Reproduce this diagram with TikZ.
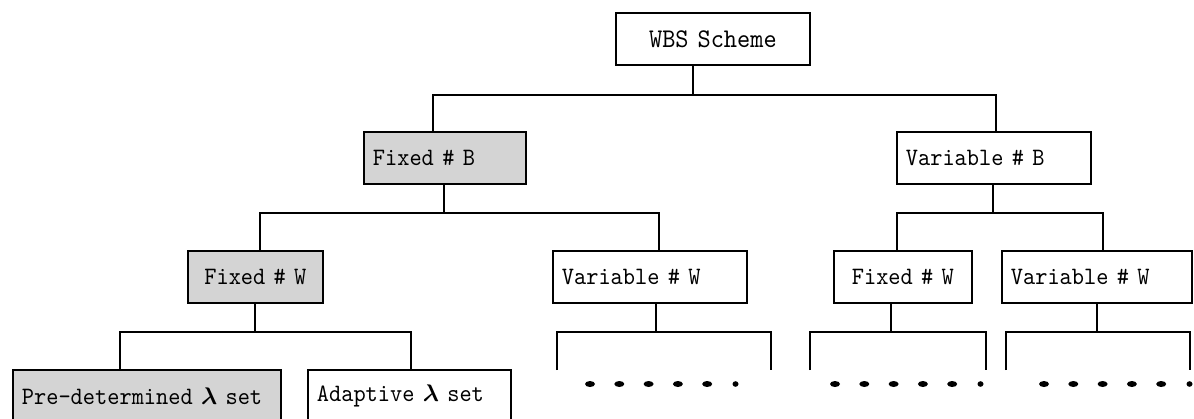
\documentclass[tikz,border=0pt]{standalone}
\usepackage{fontspec}
\usepackage{bm}
\newfontfamily\boxfont{lmmono10-regular.otf}[FakeStretch=0.93]
\begin{document}
\begin{tikzpicture}[x=0.5pt,y=-0.5pt,
  box/.style={draw, line width=0.9pt, anchor=north west, inner xsep=4.5pt, inner ysep=0pt,
    minimum height=26pt, align=left, font=\fontsize{12.5}{14}\boxfont},
  graybox/.style={box, fill=black!17},
  conn/.style={line width=0.9pt},
  dot/.style={fill=black}]
\useasboundingbox (0,0) rectangle (1194,418);
\clip (0,0) rectangle (1194,418);

% nodes
\node[box, align=center, text width=88pt, font=\fontsize{13.5}{15}\boxfont] (wbs) at (615,12) {WBS Scheme};
\node[graybox, text width=72pt] (fb) at (363,131) {Fixed \# B};
\node[box, text width=88pt] (vb) at (896,131) {Variable \# B};
\node[graybox, align=center, text width=58.5pt] (fw1) at (187,250) {Fixed \# W};
\node[box, text width=88pt] (vw1) at (552,250) {Variable \# W};
\node[box, align=center, text width=60pt] (fw2) at (833,250) {Fixed \# W};
\node[box, text width=86pt] (vw2) at (1001,250) {Variable \# W};
\node[graybox, text width=125pt] (pd) at (12,369) {Pre-determined $\bm{\lambda}$ set};
\node[box, text width=92.5pt] (ad) at (307,369) {Adaptive $\bm{\lambda}$ set};

% junction coordinates
\coordinate (j0) at (693,95);
\coordinate (j0l) at (433,95);
\coordinate (j0r) at (996,95);
\coordinate (j1) at (444,213);
\coordinate (j1l) at (260,213);
\coordinate (j1r) at (659,213);
\coordinate (j2) at (993,213);
\coordinate (j2l) at (897,213);
\coordinate (j2r) at (1103,213);
\coordinate (k1) at (255,332);
\coordinate (k1l) at (120,332);
\coordinate (k1r) at (411,332);
\coordinate (k2) at (656,332);
\coordinate (k2l) at (557,332);
\coordinate (k2r) at (771,332);
\coordinate (k3) at (891,332);
\coordinate (k3l) at (810,332);
\coordinate (k3r) at (986,332);
\coordinate (k4) at (1097,332);
\coordinate (k4l) at (1006,332);
\coordinate (k4r) at (1190,332);
\coordinate (e2l) at (557,370);
\coordinate (e2r) at (771,370);
\coordinate (e3l) at (810,370);
\coordinate (e3r) at (986,370);
\coordinate (e4l) at (1006,370);
\coordinate (e4r) at (1190,370);

% connectors
\draw[conn] (wbs.south -| j0) -- (j0);
\draw[conn] (fb.north -| j0l) -- (j0l) -- (j0r) -- (vb.north -| j0r);
\draw[conn] (fb.south -| j1) -- (j1);
\draw[conn] (fw1.north -| j1l) -- (j1l) -- (j1r) -- (vw1.north -| j1r);
\draw[conn] (vb.south -| j2) -- (j2);
\draw[conn] (fw2.north -| j2l) -- (j2l) -- (j2r) -- (vw2.north -| j2r);
\draw[conn] (fw1.south -| k1) -- (k1);
\draw[conn] (pd.north -| k1l) -- (k1l) -- (k1r) -- (ad.north -| k1r);
\draw[conn] (vw1.south -| k2) -- (k2);
\draw[conn] (e2l) -- (k2l) -- (k2r) -- (e2r);
\draw[conn] (fw2.south -| k3) -- (k3);
\draw[conn] (e3l) -- (k3l) -- (k3r) -- (e3r);
\draw[conn] (vw2.south -| k4) -- (k4);
\draw[conn] (e4l) -- (k4l) -- (k4r) -- (e4r);

% dots
\foreach \s in {590,835,1044}{
  \foreach \i in {0,...,4}{
    \fill[dot] (\s+29.3*\i,384) ellipse [x radius=2.5pt, y radius=1.5pt];
  }
  \fill[dot] (\s+29.3*5-1,384) ellipse [x radius=1.5pt, y radius=1.4pt];
}
\end{tikzpicture}
\end{document}
